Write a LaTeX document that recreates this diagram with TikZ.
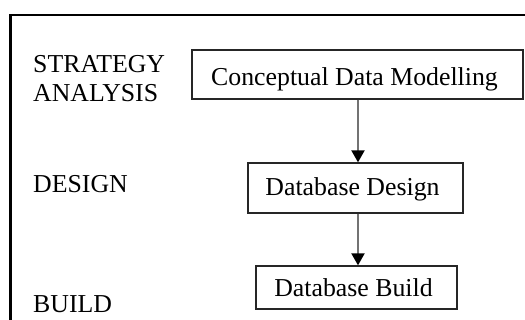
\documentclass[tikz,border=0pt]{standalone}
\usepackage{fontspec}
\setmainfont{Liberation Serif}
\usetikzlibrary{arrows.meta}
\begin{document}
\begin{tikzpicture}[x=1pt,y=-1pt,
  lbl/.style={anchor=base west,inner sep=0pt,font=\fontsize{25.8}{29}\selectfont,align=left},
  stagebox/.style={draw=black!85,line width=1.3pt,fill=white,anchor=base,inner xsep=0pt,inner ysep=0pt,font=\fontsize{25.8}{29}\selectfont},
  flow/.style={draw=black!55,line width=2pt,-{Triangle[width=13pt,length=12pt,fill=black,color=black]}}
]
\useasboundingbox (0,0) rectangle (525,320);
\begin{scope}
\clip (0,0) rectangle (525,320);
\draw[line width=2.2pt,black] (10.5,330) -- (10.5,15) -- (535,15);
\end{scope}
\node[lbl] (strat) at (33,102) {STRATEGY\\ANALYSIS};
\node[lbl] (des) at (33,193) {DESIGN};
\node[lbl] (bld) at (33,313) {BUILD};
\node[stagebox,minimum width=331pt,text height=36pt,text depth=13pt] (cdm) at (357.5,86) {Conceptual Data Modelling\kern6pt};
\node[stagebox,minimum width=215pt,text height=33pt,text depth=17pt] (dd) at (355.5,196) {Database Design\kern6pt};
\node[stagebox,minimum width=201pt,text height=31pt,text depth=12pt] (db) at (356.5,297) {Database Build\kern6pt};
\coordinate (a1) at (358,99);
\draw[flow] (cdm.south -| a1) -- (dd.north -| a1);
\draw[flow] (dd.south -| a1) -- (db.north -| a1);
\end{tikzpicture}
\end{document}
